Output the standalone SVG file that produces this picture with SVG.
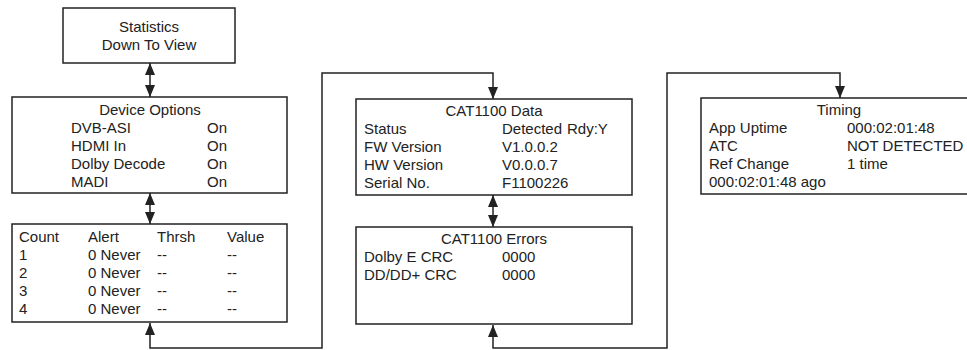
<svg xmlns="http://www.w3.org/2000/svg" width="967" height="350" viewBox="0 0 967 350">
<defs>
<style>
.box{fill:#fff;stroke:#222;stroke-width:1.5}
text{font-family:"Liberation Sans",Arial,sans-serif;font-size:15px;fill:#222}
.c{text-anchor:middle}
.conn{fill:none;stroke:#222;stroke-width:1.5}
</style>
<marker id="ah" viewBox="0 0 12 10" refX="12" refY="5" markerWidth="12" markerHeight="10" orient="auto-start-reverse" markerUnits="userSpaceOnUse">
<path d="M0,0 L12,5 L0,10 z" fill="#222"/>
</marker>
</defs>
<rect width="967" height="350" fill="#fff"/>
<g id="connectors">
<path class="conn" d="M150,63 V97" marker-start="url(#ah)" marker-end="url(#ah)"/>
<path class="conn" d="M150,193 V224" marker-start="url(#ah)" marker-end="url(#ah)"/>
<path class="conn" d="M150,323 V348 H322 V73 H493 V99" marker-start="url(#ah)" marker-end="url(#ah)"/>
<path class="conn" d="M493,195 V227" marker-start="url(#ah)" marker-end="url(#ah)"/>
<path class="conn" d="M493,325 V348 H667 V73 H840 V98" marker-start="url(#ah)" marker-end="url(#ah)"/>
</g>
<g id="statistics">
<rect class="box" x="63" y="8" width="172" height="55"/>
<text class="c" x="149" y="32">Statistics</text>
<text class="c" x="149" y="50">Down To View</text>
</g>
<g id="device-options">
<rect class="box" x="12" y="97" width="275" height="96"/>
<text class="c" x="150" y="115">Device Options</text>
<text x="71" y="133">DVB-ASI</text><text x="207" y="133">On</text>
<text x="71" y="151">HDMI In</text><text x="207" y="151">On</text>
<text x="71" y="169">Dolby Decode</text><text x="207" y="169">On</text>
<text x="71" y="187">MADI</text><text x="207" y="187">On</text>
</g>
<g id="counts">
<rect class="box" x="12" y="224" width="275" height="98"/>
<text x="19" y="242">Count</text><text x="88" y="242">Alert</text><text x="157" y="242">Thrsh</text><text x="227" y="242">Value</text>
<text x="19" y="260">1</text><text x="88" y="260">0 Never</text><text x="157" y="260">--</text><text x="227" y="260">--</text>
<text x="19" y="278">2</text><text x="88" y="278">0 Never</text><text x="157" y="278">--</text><text x="227" y="278">--</text>
<text x="19" y="296">3</text><text x="88" y="296">0 Never</text><text x="157" y="296">--</text><text x="227" y="296">--</text>
<text x="19" y="314">4</text><text x="88" y="314">0 Never</text><text x="157" y="314">--</text><text x="227" y="314">--</text>
</g>
<g id="cat1100-data">
<rect class="box" x="356" y="99" width="276" height="96"/>
<text class="c" x="494" y="116">CAT1100 Data</text>
<text x="364" y="134">Status</text><text x="502" y="134">Detected</text><text x="567" y="134">Rdy:Y</text>
<text x="364" y="152">FW Version</text><text x="502" y="152">V1.0.0.2</text>
<text x="364" y="170">HW Version</text><text x="502" y="170">V0.0.0.7</text>
<text x="364" y="188">Serial No.</text><text x="502" y="188">F1100226</text>
</g>
<g id="cat1100-errors">
<rect class="box" x="356" y="227" width="276" height="97"/>
<text class="c" x="494" y="244">CAT1100 Errors</text>
<text x="364" y="262">Dolby E CRC</text><text x="502" y="262">0000</text>
<text x="364" y="280">DD/DD+ CRC</text><text x="502" y="280">0000</text>
</g>
<g id="timing">
<rect class="box" x="701" y="98" width="300" height="96"/>
<text class="c" x="839" y="115">Timing</text>
<text x="709" y="133">App Uptime</text><text x="847" y="133">000:02:01:48</text>
<text x="709" y="151">ATC</text><text x="847" y="151">NOT DETECTED</text>
<text x="709" y="169">Ref Change</text><text x="847" y="169">1 time</text>
<text x="709" y="187">000:02:01:48 ago</text>
</g>
</svg>
